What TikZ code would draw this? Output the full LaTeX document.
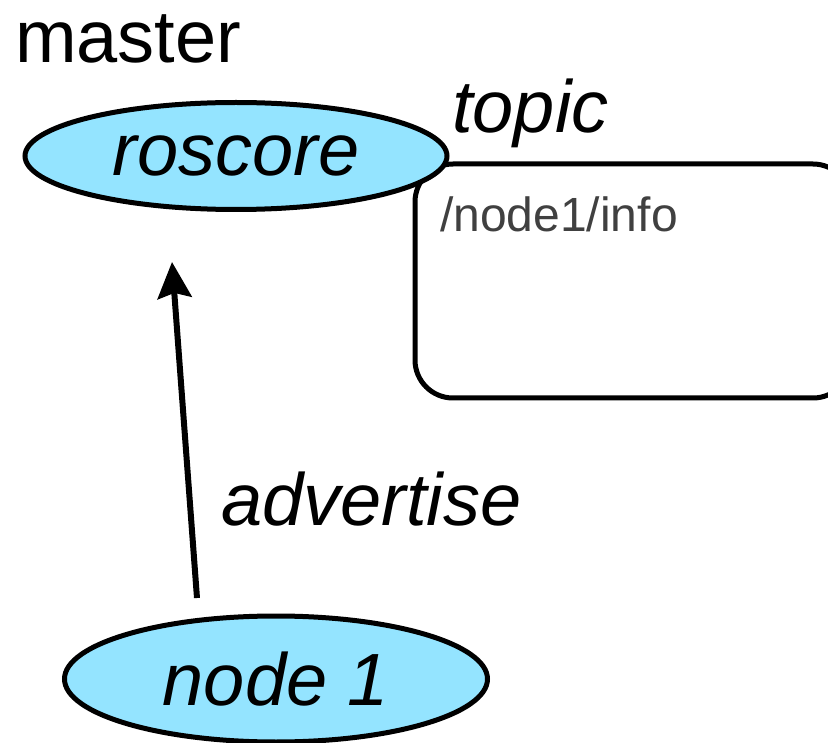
\documentclass[tikz,border=0pt]{standalone}
\usepackage{fontspec}
\setmainfont{Liberation Sans}
\usetikzlibrary{shapes.geometric,arrows.meta}
\definecolor{nodefill}{HTML}{94E4FF}
\definecolor{topicgray}{HTML}{404040}
\begin{document}
\begin{tikzpicture}[x=1pt,y=-1pt,
  bigtext/.style={font=\fontsize{74}{80}\selectfont, inner sep=0pt},
  rosnode/.style={ellipse, draw=black, line width=5pt, fill=nodefill, inner sep=0pt,
    font=\fontsize{74}{80}\selectfont\itshape},
  topicbox/.style={rectangle, draw=black, line width=5pt, rounded corners=38pt, fill=white},
  advarrow/.style={line width=6pt, -{Stealth[length=36pt,width=34pt,inset=5pt]}}
]
\useasboundingbox (0,0) rectangle (828,743);
\clip (0,0) rectangle (828,743);
\fill[white] (0,0) rectangle (828,743);

\node[topicbox, minimum width=436pt, minimum height=234pt] (box) at (633,281) {};
\node[rosnode, minimum width=422pt, minimum height=107pt] (roscore) at (236,156) {roscore};
\node[rosnode, minimum width=423pt, minimum height=126pt] (node1) at (276,679) {node 1};

\node[bigtext, anchor=base west] (master) at (15,63) {master};
\node[bigtext, anchor=base west, font=\fontsize{74}{80}\selectfont\itshape] (topic) at (452,133) {topic};
\node[anchor=base west, inner sep=0pt, text=topicgray, font=\fontsize{48}{52}\selectfont] (info) at (440,232) {/node1/info};
\node[bigtext, anchor=base west, font=\fontsize{74}{80}\selectfont\itshape] (adv) at (221,525) {advertise};

\coordinate (astart) at (197,598);
\coordinate (aend) at (172,262);
\draw[advarrow] (astart) -- (aend);
\end{tikzpicture}
\end{document}
